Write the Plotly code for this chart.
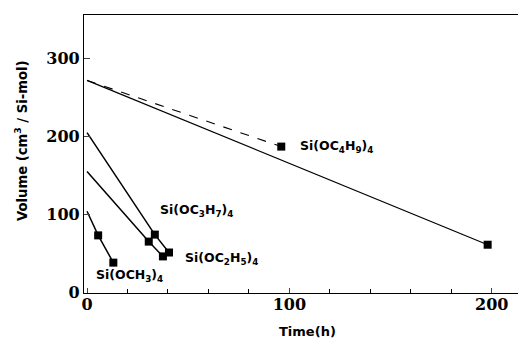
import plotly.graph_objects as go

# Data
butoxy_dash_t = [0, 96]
butoxy_dash_v = [272, 187]
butoxy_t = [0, 198]
butoxy_v = [272, 61]
propoxy_t = [0, 33.5, 40.5]
propoxy_v = [205, 74, 51]
ethoxy_t = [0, 30.5, 37.5]
ethoxy_v = [155, 65, 46]
methoxy_t = [0, 5.5, 13]
methoxy_v = [104, 73, 38]

x_ticks = [0, 100, 200]
y_ticks = [0, 100, 200, 300]

labels = [
    ("Si(OC<sub>4</sub>H<sub>9</sub>)<sub>4</sub>", 104.5, 187),
    ("Si(OC<sub>3</sub>H<sub>7</sub>)<sub>4</sub>", 35, 105),
    ("Si(OC<sub>2</sub>H<sub>5</sub>)<sub>4</sub>", 47.5, 43),
    ("Si(OCH<sub>3</sub>)<sub>4</sub>", 3.5, 21),
]

fig = go.Figure()
line = dict(color="black", width=1.2)
mk = dict(symbol="square", size=8, color="black")

fig.add_trace(go.Scatter(x=butoxy_dash_t, y=butoxy_dash_v, mode="lines",
                         line=dict(color="black", width=1.1, dash="dash")))
fig.add_trace(go.Scatter(x=butoxy_dash_t[1:], y=butoxy_dash_v[1:], mode="markers", marker=mk))
fig.add_trace(go.Scatter(x=butoxy_t, y=butoxy_v, mode="lines", line=line))
fig.add_trace(go.Scatter(x=butoxy_t[1:], y=butoxy_v[1:], mode="markers", marker=mk))
for t, v in [(propoxy_t, propoxy_v), (ethoxy_t, ethoxy_v), (methoxy_t, methoxy_v)]:
    fig.add_trace(go.Scatter(x=t, y=v, mode="lines", line=dict(color="black", width=1.5)))
    fig.add_trace(go.Scatter(x=t[1:], y=v[1:], mode="markers", marker=mk))

for txt, x, y in labels:
    fig.add_annotation(x=x, y=y, text=txt, showarrow=False, xanchor="left", yanchor="middle",
                       font=dict(family="DejaVu Sans", size=12.5, color="black", weight="bold"))

# axis titles as annotations (positioned like the reference)
fig.add_annotation(x=0.514, y=-0.14, xref="paper", yref="paper", text="Time(h)",
                   showarrow=False, xanchor="center", yanchor="middle",
                   font=dict(family="DejaVu Sans", size=13, color="black", weight="bold"))
fig.add_annotation(x=-0.145, y=0.547, xref="paper", yref="paper",
                   text="Volume (cm<sup>3</sup> / Si-mol)", textangle=-90,
                   showarrow=False, xanchor="center", yanchor="middle",
                   font=dict(family="DejaVu Sans", size=13.2, color="black", weight="bold"))

fig.update_layout(
    width=523, height=339,
    margin=dict(l=84, r=5, t=15, b=46),
    plot_bgcolor="white", paper_bgcolor="white",
    showlegend=False,
    font=dict(family="DejaVu Sans", color="black"),
)
fig.update_xaxes(range=[-1.5, 213], tickvals=x_ticks, ticks="inside", ticklen=5,
                 automargin=False, ticklabelstandoff=-3,
                 showgrid=False, zeroline=False, showline=True, linecolor="black",
                 linewidth=1.2, mirror=True,
                 minor=dict(tickvals=[20, 40, 60, 80, 120, 140, 160, 180], ticks="inside",
                            ticklen=4, tickcolor="black"),
                 tickfont=dict(family="DejaVu Serif", size=16, weight="bold"))
fig.update_yaxes(range=[-1, 356], tickvals=y_ticks, ticks="inside", ticklen=6,
                 automargin=False,
                 showgrid=False, zeroline=False, showline=True, linecolor="black",
                 linewidth=1.2, mirror=False,
                 tickfont=dict(family="DejaVu Serif", size=16, weight="bold"))

fig.write_html("out.html", post_script="document.body.style.margin='0';",
               config={"displayModeBar": False})
